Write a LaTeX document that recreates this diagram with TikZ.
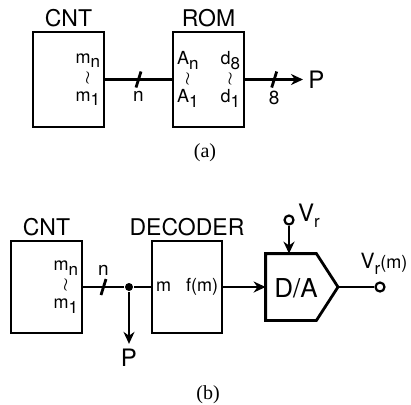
\documentclass[tikz,border=0pt]{standalone}
\usepackage{fontspec}
\setmainfont{TeX Gyre Heros}
\newfontfamily\capfont{Liberation Serif}
\usetikzlibrary{arrows.meta,positioning,calc}
\newcommand{\subt}[2]{#1\raisebox{-.5ex}{\fontsize{8.5}{8.5}\selectfont #2}}

\begin{document}
\begin{tikzpicture}[x=0.5pt,y=-0.5pt,line width=1.4pt,>={Stealth[length=6pt,width=5.5pt]},
 blk/.style={draw,line width=1.4pt,minimum width=35.5pt,minimum height=47.5pt,inner sep=0pt},
 title/.style={inner sep=0pt,font=\fontsize{11.5}{12}\selectfont},
 pins/.style={inner sep=1pt,align=center,font=\fontsize{9}{9.5}\selectfont},
 buslbl/.style={inner sep=1pt,font=\fontsize{9.5}{10}\selectfont},
 sig/.style={inner sep=2pt,font=\fontsize{12}{12}\selectfont},
 term/.style={circle,draw,fill=white,inner sep=0pt,minimum size=4.5pt,line width=1.1pt},
 capt/.style={font=\capfont\fontsize{10}{10}\selectfont}]
\useasboundingbox (0,0) rectangle (411,404);

% (a) counter feeding a ROM
\node[blk] (cntA) at (68.5,79.5) {};
\node[title,above=1pt of cntA] (cntAt) {CNT};
\node[pins,anchor=east] (cntAp) at ([xshift=-1pt]cntA.east) {\subt{m}{n}\\$\wr$\\\subt{m}{1}};
\node[blk] (romA) at (208.5,79.5) {};
\node[title,above=1pt of romA] (romAt) {ROM};
\node[pins,anchor=west] (romAin) at ([xshift=1pt]romA.west) {\subt{A}{n}\\$\wr$\\\subt{A}{1}};
\node[pins,anchor=east] (romAout) at ([xshift=-1pt]romA.east) {\subt{d}{8}\\$\wr$\\\subt{d}{1}};
\node[sig,anchor=west] (pA) at (303,79.5) {P};
\draw (cntA.east) -- coordinate[pos=.5] (busA) (romA.west);
\draw ([shift={(-2.5,8)}]busA) -- ([shift={(2.5,-8)}]busA);
\node[buslbl,below=4pt of busA] (nA) {n};
\draw[->] (romA.east) -- coordinate[pos=.5] (busB) (pA);
\draw ([shift={(-2.5,8)}]busB) -- ([shift={(2.5,-8)}]busB);
\node[buslbl,below=4pt of busB] (eightA) {8};
\node[capt] (capA) at (205,153) {(a)};

% (b) counter, decoder and D/A
\node[blk,minimum height=46pt] (cntB) at (46.5,287) {};
\node[title,above=1pt of cntB] (cntBt) {CNT};
\node[pins,anchor=east] (cntBp) at ([xshift=-1pt]cntB.east) {\subt{m}{n}\\$\wr$\\\subt{m}{1}};
\node[blk,minimum width=35pt,minimum height=46pt] (decB) at (187,287) {};
\node[title,above=1pt of decB] (decBt) {DECODER};
\node[pins,anchor=west] (decBin) at ([xshift=1pt]decB.west) {m};
\node[pins,anchor=east] (decBout) at ([xshift=-1pt]decB.east) {f(m)};
\node[circle,fill,inner sep=0pt,minimum size=4pt] (jB) at (129,287) {};
\draw (cntB.east) -- coordinate[pos=.5] (busC) (jB) -- (decB.west);
\draw ([shift={(-2.5,8)}]busC) -- ([shift={(2.5,-8)}]busC);
\node[buslbl,above=4pt of busC] (nB) {n};
\node[sig] (pB) at (129,358) {P};
\draw[->] (jB) -- (pB);

\node[inner sep=0pt,minimum width=24pt,minimum height=32pt] (da) at (291,287) {};
\coordinate (daTip) at (338,287);
\draw (da.north west) -- (da.north east) -- (daTip) -- (da.south east) -- (da.south west) -- cycle;
\node[font=\fontsize{13}{13}\selectfont] (daT) at (296,288) {D/A};
\draw[->] (decB.east) -- (da.west);
\node[term] (vr) at (289,220) {};
\node[sig,anchor=west,inner sep=1pt] (vrT) at ([yshift=2pt]vr.east) {\subt{V}{r}};
\draw[->] (vr) -- (vr |- da.north);
\node[term] (vo) at (380,287) {};
\draw (daTip) -- (vo);
\node[inner sep=1pt,above=2pt of vo,xshift=2pt,font=\fontsize{10.5}{11}\selectfont] (voT) {\subt{V}{r}{\fontsize{9}{9}\selectfont(m)}};
\node[capt] (capB) at (208,395) {(b)};
\end{tikzpicture}
\end{document}
